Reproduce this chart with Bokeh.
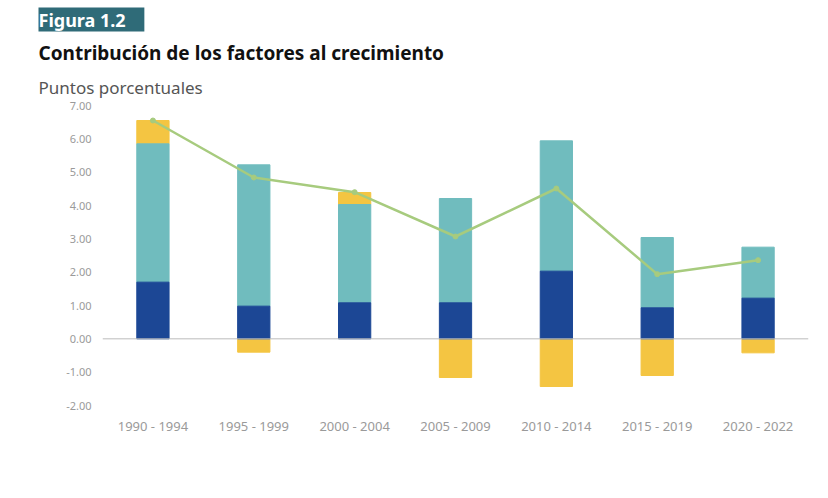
from bokeh.plotting import figure
from bokeh.models import Legend, LegendItem, Span, NumeralTickFormatter, FixedTicker, Title
from bokeh.embed import file_html
from bokeh.resources import INLINE

periods = ["1990 - 1994","1995 - 1999","2000 - 2004","2005 - 2009","2010 - 2014","2015 - 2019","2020 - 2022"]
trabajo = [1.70, 0.98, 1.08, 1.08, 2.03, 0.93, 1.22]
capital = [4.15, 4.24, 2.95, 3.13, 3.91, 2.11, 1.53]
ptf = [0.70, -0.40, 0.36, -1.16, -1.43, -1.10, -0.42]
pib = [6.55, 4.84, 4.40, 3.07, 4.51, 1.94, 2.36]

F = "Noto Sans"
p = figure(x_range=periods, y_range=(-2, 7), frame_width=706, frame_height=300, output_backend="svg",
           toolbar_location=None, min_border_left=102, min_border_right=4, min_border_top=0, min_border_bottom=0)
p.outline_line_color = None
p.grid.grid_line_color = None
p.axis.axis_line_color = None
p.axis.major_tick_line_color = None
p.axis.minor_tick_line_color = None
p.axis.major_label_text_color = "#9a9a9a"
p.axis.major_label_text_font = F
p.yaxis.major_label_text_font_size = "11px"
p.xaxis.major_label_text_font_size = "13px"
p.yaxis.ticker = FixedTicker(ticks=list(range(-2, 8)))
p.yaxis.formatter = NumeralTickFormatter(format="0.00")

ptf_bottom = [c + t if v > 0 else 0 for v, c, t in zip(ptf, capital, trabajo)]
ptf_top = [b + v if v > 0 else v for v, b in zip(ptf, ptf_bottom)]
cap_top = [c + t for c, t in zip(capital, trabajo)]

w = 0.32
r1 = p.vbar(x=periods, bottom=ptf_bottom, top=ptf_top, width=w, color="#F4C542")
r2 = p.vbar(x=periods, bottom=trabajo, top=cap_top, width=w, color="#70BCBE")
r3 = p.vbar(x=periods, bottom=0, top=trabajo, width=w, color="#1C4795")
p.add_layout(Span(location=0, dimension="width", line_color="#bbbbbb", line_width=1))
r4 = p.line(periods, pib, line_color="#A7CB7E", line_width=2.5)
r5 = p.scatter(periods, pib, size=5, color="#A7CB7E")

# titles: newest added is outermost
p.add_layout(Title(text="Puntos porcentuales", text_font=F, text_font_size="17px",
                   text_font_style="normal", text_color="#555555", offset=-64, standoff=14), "above")
p.add_layout(Title(text="Contribución de los factores al crecimiento", text_font=F, text_font_size="19px",
                   text_font_style="bold", text_color="#111111", offset=-64, standoff=2), "above")
p.add_layout(Title(text="  Figura 1.2  ", text_font=F, text_font_size="18px", text_font_style="bold",
                   text_color="white", background_fill_color="#2f6b78", offset=-64, standoff=10), "above")

leg = Legend(items=[LegendItem(label="PTF", renderers=[r1]),
                    LegendItem(label="Capital", renderers=[r2]),
                    LegendItem(label="Trabajo", renderers=[r3]),
                    LegendItem(label="PIB real", renderers=[r4, r5])],
             orientation="horizontal", location="center", border_line_color=None,
             label_text_font=F, label_text_font_size="12px", label_text_font_style="bold",
             label_text_color="#333", glyph_width=14, glyph_height=14, spacing=14, padding=2, margin=8)
p.add_layout(leg, "below")
p.add_layout(Title(text="Fuente: The Conference Board.", text_font=F, text_font_size="11px",
                   text_font_style="normal", text_color="#111111", offset=-62, standoff=2), "below")

open("out.html", "w").write(file_html(p, INLINE))
